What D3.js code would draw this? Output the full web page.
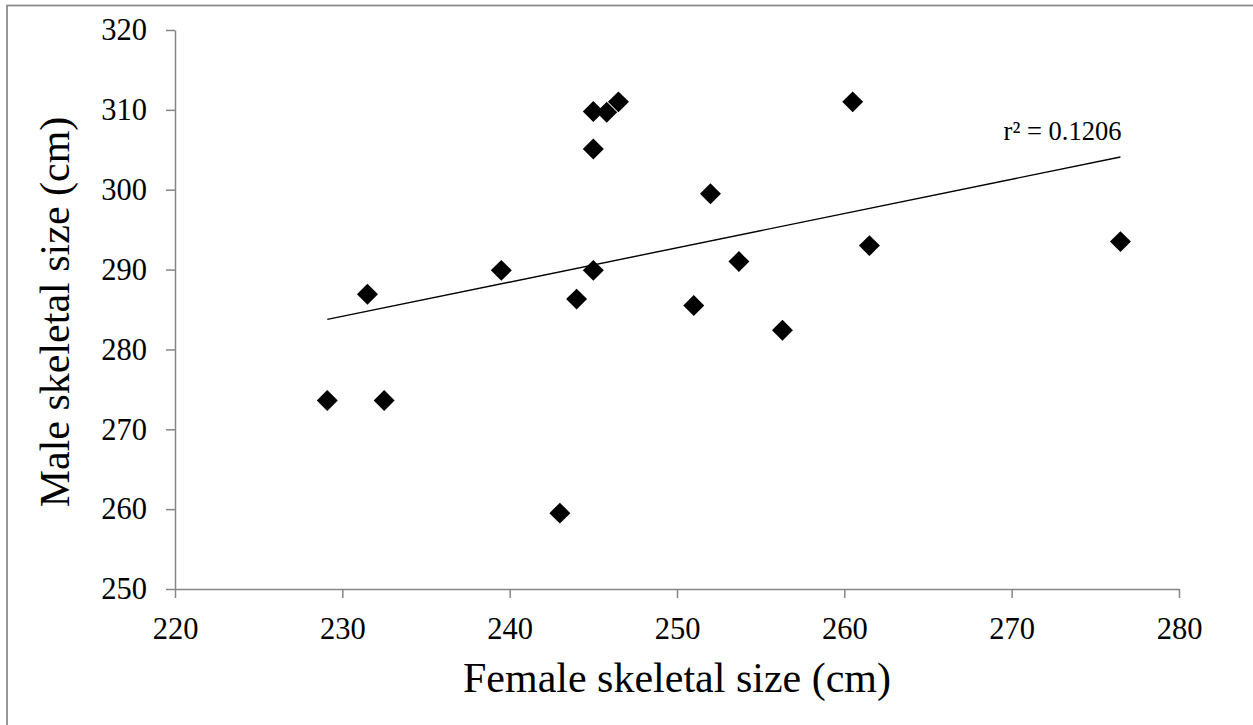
<!DOCTYPE html>
<html>
<head>
<meta charset="utf-8">
<script src="https://cdn.jsdelivr.net/npm/d3@7"></script>
<style>
  html, body { margin: 0; padding: 0; background: #fff; }
  svg { display: block; }
</style>
</head>
<body>
<svg id="chart" width="1253" height="725"></svg>
<script>
// Data
const femaleSize = [229.1, 231.5, 232.5, 239.5, 244.0, 243.0, 245.0, 245.0, 245.0, 245.8, 246.5, 252.0, 251.0, 253.7, 256.3, 260.5, 261.5, 276.5];
const maleSize   = [273.6, 286.9, 273.6, 289.9, 286.3, 259.5, 289.9, 305.1, 309.8, 309.7, 311.0, 299.5, 285.5, 291.0, 282.4, 311.0, 293.0, 293.5];
const xTicks = [220, 230, 240, 250, 260, 270, 280];
const yTicks = [250, 260, 270, 280, 290, 300, 310, 320];
const xTitle = "Female skeletal size (cm)";
const yTitle = "Male skeletal size (cm)";
const r2Label = "r\u00B2 = 0.1206";

const svg = d3.select("#chart");
const FONT = "'Liberation Serif', 'Times New Roman', serif";
const AXIS_COLOR = "#868686";

// outer chart border (only left/top visible in the frame)
svg.append("rect")
  .attr("x", 7).attr("y", 5.5)
  .attr("width", 1400).attr("height", 900)
  .attr("fill", "none")
  .attr("stroke", "#8c8c8c")
  .attr("stroke-width", 1.8);

const x = d3.scaleLinear().domain([220, 280]).range([175, 1179]);
const y = d3.scaleLinear().domain([250, 320]).range([589, 30]);

// axes
const xAxis = svg.append("g")
  .attr("transform", `translate(0,${y(250)})`)
  .call(d3.axisBottom(x).tickValues(xTicks).tickSize(9).tickPadding(19).tickSizeOuter(0).tickFormat(d3.format("d")));
const yAxis = svg.append("g")
  .attr("transform", `translate(${x(220)},0)`)
  .call(d3.axisLeft(y).tickValues(yTicks).tickSize(9).tickPadding(19).tickSizeOuter(0).tickFormat(d3.format("d")));

[xAxis, yAxis].forEach(g => {
  g.select(".domain").attr("stroke", AXIS_COLOR).attr("stroke-width", 1.5);
  g.selectAll(".tick line").attr("stroke", AXIS_COLOR).attr("stroke-width", 1.5);
  g.selectAll(".tick text")
    .attr("fill", "#000")
    .style("font-family", FONT)
    .style("font-size", "30.5px");
});

// trend line (least squares fit of the data)
const n = femaleSize.length;
const mx = d3.mean(femaleSize), my = d3.mean(maleSize);
let sxy = 0, sxx = 0;
for (let i = 0; i < n; i++) {
  sxy += (femaleSize[i] - mx) * (maleSize[i] - my);
  sxx += (femaleSize[i] - mx) ** 2;
}
const slope = sxy / sxx, intercept = my - slope * mx;
const x0 = d3.min(femaleSize), x1 = d3.max(femaleSize);
const trend = [[x0, intercept + slope * x0], [x1, intercept + slope * x1]];

svg.append("path")
  .datum(trend)
  .attr("d", d3.line().x(d => x(d[0])).y(d => y(d[1])))
  .attr("fill", "none")
  .attr("stroke", "#000")
  .attr("stroke-width", 1.4);

// markers (diamonds)
const diamond = d3.symbol().type(d3.symbolSquare).size(220);
svg.append("g").selectAll("path")
  .data(d3.range(n))
  .join("path")
  .attr("d", diamond)
  .attr("transform", i => `translate(${x(femaleSize[i])},${y(maleSize[i])}) rotate(45)`)
  .attr("fill", "#000");

// r² label
svg.append("text")
  .attr("x", x(x1) + 1)
  .attr("y", y(trend[1][1]) - 17)
  .attr("text-anchor", "end")
  .style("font-family", FONT)
  .style("font-size", "26.5px")
  .text(r2Label);

// axis titles
svg.append("text")
  .attr("x", 677).attr("y", 692)
  .attr("text-anchor", "middle")
  .style("font-family", FONT)
  .style("font-size", "42px")
  .text(xTitle);

svg.append("text")
  .attr("transform", "translate(69,312) rotate(-90)")
  .attr("text-anchor", "middle")
  .style("font-family", FONT)
  .style("font-size", "42px")
  .text(yTitle);
</script>
</body>
</html>
